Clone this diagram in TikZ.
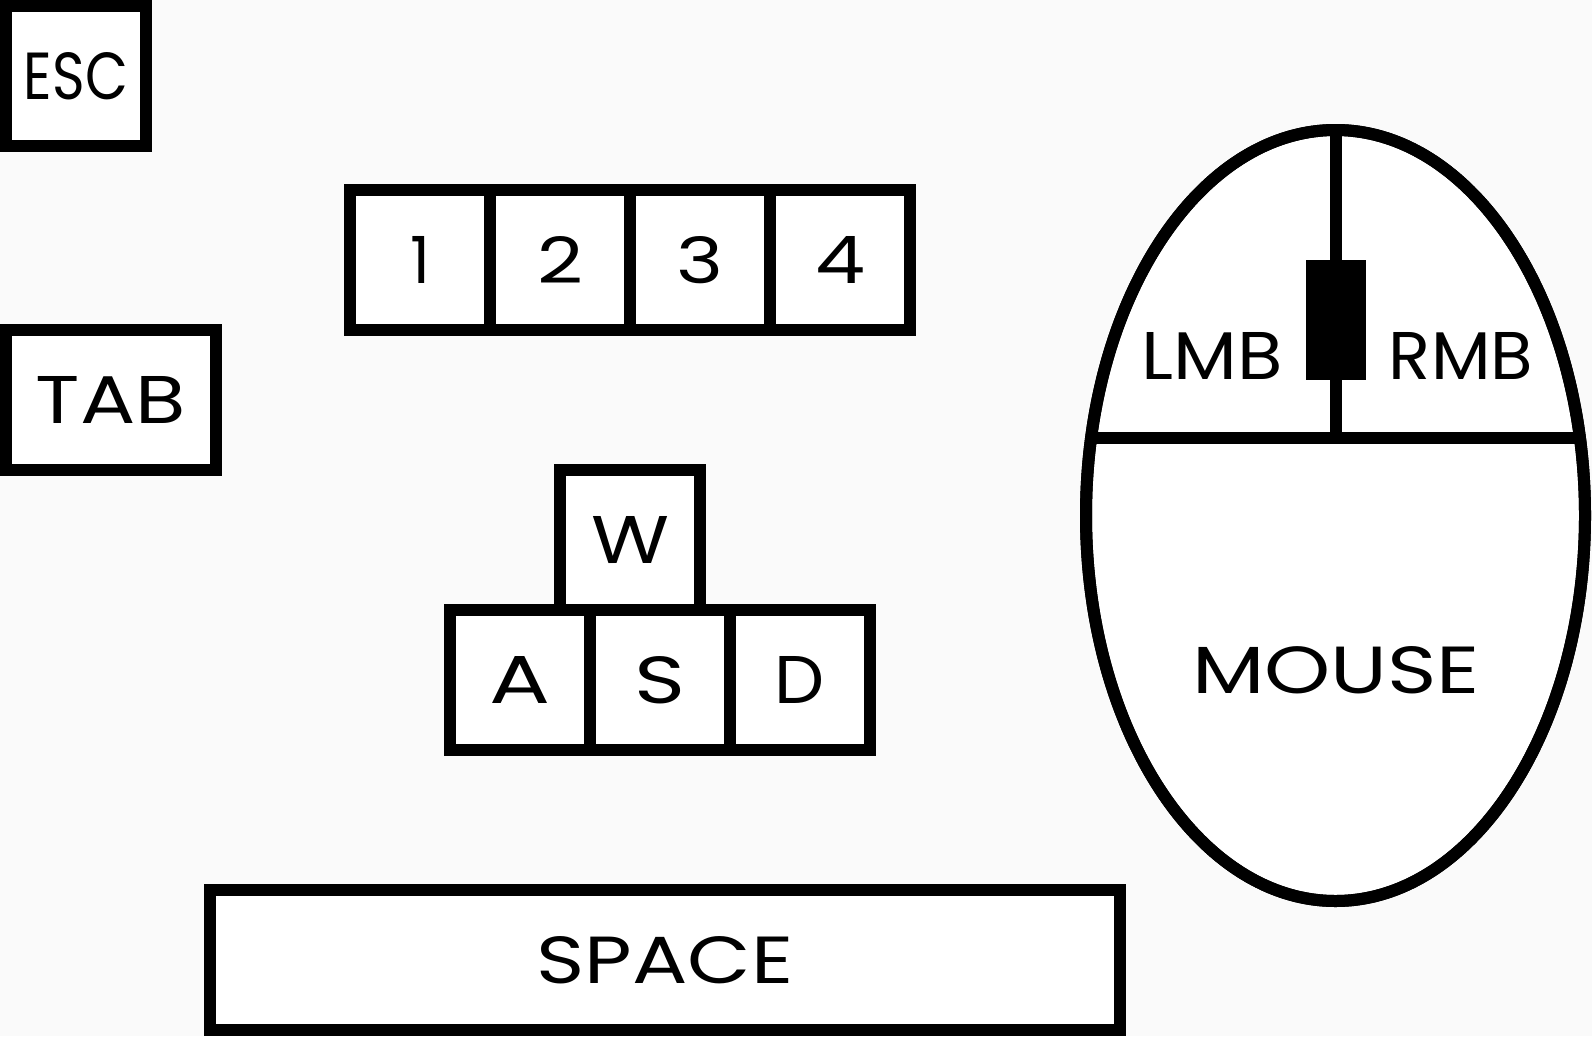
\documentclass[tikz,border=0pt]{standalone}
\usepackage{fontspec}
\setmainfont{Poppins}
\usetikzlibrary{shapes.geometric}
\definecolor{bgcol}{HTML}{FAFAFA}
\newcommand{\kt}[2]{\resizebox{#1pt}{47pt}{#2}}
\tikzset{
  keybox/.style={draw=black, line width=12pt, fill=white, inner sep=0pt, outer sep=0pt,
    minimum width=140pt, minimum height=140pt},
  lbl/.style={inner sep=0pt, outer sep=0pt, text=black},
  thick line/.style={draw=black, line width=12pt},
}
\begin{document}
\begin{tikzpicture}[x=1pt,y=-1pt]
\useasboundingbox (0,0) rectangle (1592,1036);
\fill[bgcol] (0,0) rectangle (1592,1036);

% ESC and TAB
\node[keybox] (esc) at (76,76) {\kt{104}{ESC}};
\node[keybox, minimum width=210pt] (tab) at (111,400) {\kt{150}{TAB}};

% number row
\node[keybox] (k1) at (420,260) {\kt{20}{1}};
\node[keybox] (k2) at (560,260) {\kt{46}{2}};
\node[keybox] (k3) at (700,260) {\kt{47}{3}};
\node[keybox] (k4) at (840,260) {\kt{50}{4}};

% WASD
\node[keybox] (w) at (630,540) {\kt{78}{W}};
\node[keybox] (a) at (520,680) {\kt{61}{A}};
\node[keybox] (s) at (660,680) {\kt{51}{S}};
\node[keybox] (d) at (800,680) {\kt{50}{D}};

% SPACE
\node[keybox, minimum width=910pt] (space) at (665,960) {\kt{257}{SPACE}};

% Mouse
\node[draw=black, line width=12pt, fill=white, ellipse, inner sep=0pt, outer sep=0pt,
  minimum width=499pt, minimum height=771pt] (mouse) at (1335.5,515.5) {};
\coordinate (hl) at (1091,437.5);
\coordinate (hr) at (1580,437.5);
\coordinate (hm) at (1336,437.5);
\draw[thick line] (hl) -- (hr);
\draw[thick line] (mouse.north -| hm) -- (hm);
\node[fill=black, inner sep=0pt, outer sep=0pt, minimum width=60pt, minimum height=120pt] (wheel) at (1336,320) {};
\node[draw=black, line width=12pt, ellipse, inner sep=0pt, outer sep=0pt,
  minimum width=499pt, minimum height=771pt] (mouseoutline) at (1335.5,515.5) {};

\node[lbl] (lmb) at (1212,356) {\kt{141}{LMB}};
\node[lbl] (rmb) at (1461,356) {\kt{144}{RMB}};
\node[lbl] (mlabel) at (1336,670) {\kt{288}{MOUSE}};
\end{tikzpicture}
\end{document}
